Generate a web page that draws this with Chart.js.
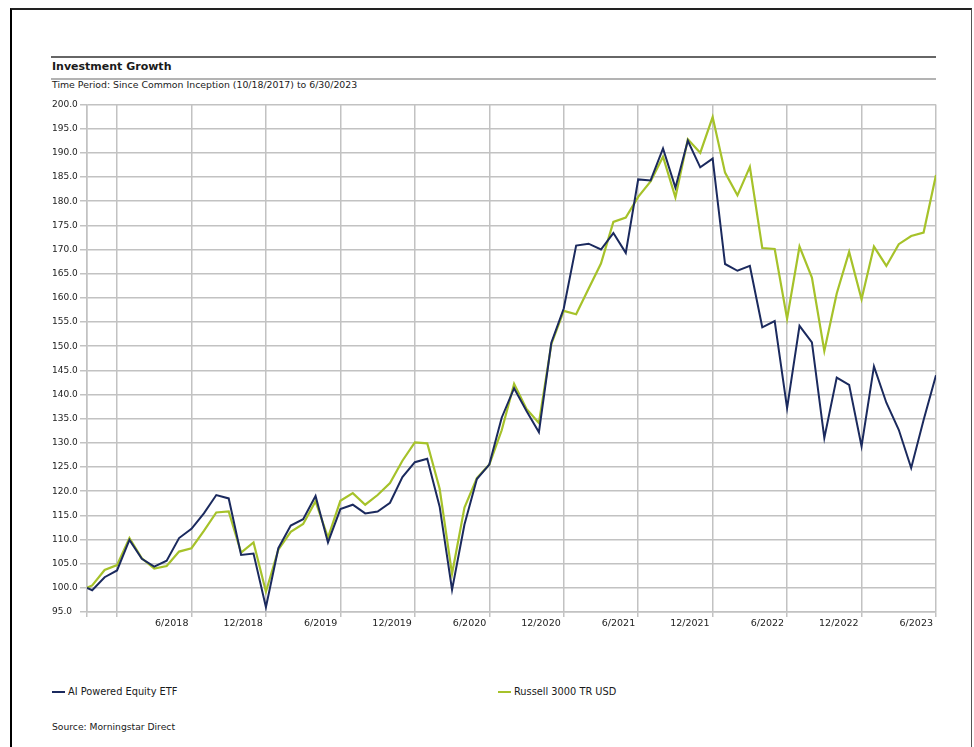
<!DOCTYPE html>
<html>
<head>
<meta charset="utf-8">
<title>Investment Growth</title>
<script src="https://cdn.jsdelivr.net/npm/chart.js@4.4.0/dist/chart.umd.min.js"></script>
<style>
  body { margin: 0; background: #fff; font-family: 'DejaVu Sans', Verdana, sans-serif; color: #1a1a1a; }
  #frame { position: absolute; left: 10px; top: 8px; width: 962px; height: 760px; box-sizing: border-box;
           border-left: 2px solid #000; border-top: 2px solid #222; border-right: 1px solid #555; }
  .rule { position: absolute; left: 51px; width: 885px; height: 0; }
  #rule1 { top: 56px; border-top: 2px solid #666; }
  #rule2 { top: 78px; border-top: 2px solid #b3b3b3; }
  .txt { position: absolute; white-space: nowrap; }
  #title { left: 52px; top: 60px; font-size: 11px; line-height: 13px; font-weight: bold; }
  #period { left: 52px; top: 79px; font-size: 9.35px; line-height: 12px; }
  #chartBox { position: absolute; left: 40px; top: 95px; width: 905px; height: 540px; }
  .swatch { position: absolute; width: 13px; height: 2px; top: 691px; }
  #source { left: 52px; top: 721px; font-size: 9.2px; line-height: 12px; }
</style>
</head>
<body>
<div id="frame"></div>
<div class="rule" id="rule1"></div>
<div class="txt" id="title">Investment Growth</div>
<div class="rule" id="rule2"></div>
<div class="txt" id="period">Time Period: Since Common Inception (10/18/2017) to 6/30/2023</div>
<div id="chartBox"><canvas id="growthChart"></canvas></div>
<div id="legend"></div>
<div class="txt" id="source">Source: Morningstar Direct</div>

<script>
// Periods: inception date, then month ends
const periods = [
  '10/18/2017', '10/2017', '11/2017', '12/2017',
  '1/2018', '2/2018', '3/2018', '4/2018', '5/2018', '6/2018', '7/2018', '8/2018', '9/2018', '10/2018', '11/2018', '12/2018',
  '1/2019', '2/2019', '3/2019', '4/2019', '5/2019', '6/2019', '7/2019', '8/2019', '9/2019', '10/2019', '11/2019', '12/2019',
  '1/2020', '2/2020', '3/2020', '4/2020', '5/2020', '6/2020', '7/2020', '8/2020', '9/2020', '10/2020', '11/2020', '12/2020',
  '1/2021', '2/2021', '3/2021', '4/2021', '5/2021', '6/2021', '7/2021', '8/2021', '9/2021', '10/2021', '11/2021', '12/2021',
  '1/2022', '2/2022', '3/2022', '4/2022', '5/2022', '6/2022', '7/2022', '8/2022', '9/2022', '10/2022', '11/2022', '12/2022',
  '1/2023', '2/2023', '3/2023', '4/2023', '5/2023', '6/2023'
];

const aiEquityEtf = [
  100.0, 99.5, 102.2, 103.6,
  109.9, 106.0, 104.4, 105.6, 110.3, 112.2, 115.4, 119.2, 118.5, 106.8, 107.1, 96.0,
  108.2, 112.9, 114.2, 119.0, 109.4, 116.3, 117.2, 115.4, 115.8, 117.6, 122.9, 126.0,
  126.7, 116.8, 99.6, 113.1, 122.5, 125.5, 135.2, 141.3, 136.6, 132.2, 150.7, 157.8,
  170.8, 171.2, 170.0, 173.4, 169.3, 184.5, 184.3, 190.9, 182.8, 192.5, 187.0, 188.8,
  167.0, 165.6, 166.6, 153.9, 155.2, 137.2, 154.2, 150.8, 131.0, 143.5, 142.0, 129.3,
  145.8, 138.3, 132.7, 124.8, 134.7, 144.0
];

const russell3000 = [
  100.0, 100.5, 103.7, 104.7,
  110.3, 106.1, 104.0, 104.5, 107.5, 108.2, 111.8, 115.6, 115.8, 107.3, 109.4, 99.2,
  107.9, 111.6, 113.2, 117.9, 110.4, 118.0, 119.6, 117.2, 119.2, 121.7, 126.3, 130.1,
  129.9, 120.5, 102.9, 116.6, 122.7, 125.5, 132.6, 142.2, 137.0, 134.1, 150.4, 157.3,
  156.6, 161.9, 167.1, 175.7, 176.6, 180.9, 184.1, 189.2, 180.8, 192.8, 190.0, 197.4,
  185.9, 181.2, 187.1, 170.3, 170.1, 155.7, 170.6, 164.2, 149.0, 160.9, 169.5, 159.7,
  170.6, 166.6, 171.1, 172.8, 173.5, 185.4
];

const seriesNames = ['AI Powered Equity ETF', 'Russell 3000 TR USD'];
const seriesColors = ['#1b2a5e', '#a6c22a'];

// Vertical grid months and their labels (12/2017 has a gridline but no label)
const xGridMonths = ['12/2017', '6/2018', '12/2018', '6/2019', '12/2019', '6/2020', '12/2020', '6/2021', '12/2021', '6/2022', '12/2022', '6/2023'];
const xTickLabels = ['', '6/2018', '12/2018', '6/2019', '12/2019', '6/2020', '12/2020', '6/2021', '12/2021', '6/2022', '12/2022', '6/2023'];

const yMin = 95, yMax = 200, yStep = 5;

// month position relative to 10/2017 month end
function monthPos(str) {
  const p = str.split('/').map(Number);
  const m = p[0], y = p[p.length - 1];
  const dim = new Date(y, m, 0).getDate();
  const day = p.length === 3 ? p[1] : dim;
  return (y - 2017) * 12 + (m - 10) + (day - dim) / dim;
}

function toPoints(values) {
  return values.map((v, i) => ({ x: monthPos(periods[i]), y: v }));
}

// legend (html)
const legendPos = [52, 498];
const legendEl = document.getElementById('legend');
seriesNames.forEach((name, i) => {
  const sw = document.createElement('div');
  sw.className = 'swatch';
  sw.style.left = legendPos[i] + 'px';
  sw.style.background = seriesColors[i];
  legendEl.appendChild(sw);
  const t = document.createElement('div');
  t.className = 'txt';
  t.style.left = (legendPos[i] + 16) + 'px';
  t.style.top = '686px';
  t.style.fontSize = '9.8px';
  t.style.lineHeight = '12px';
  t.textContent = name;
  legendEl.appendChild(t);
});

const gridColor = '#c2c2c2';
const xMin = monthPos(periods[0]);
const xMax = monthPos(periods[periods.length - 1]);

Chart.defaults.font.family = "'DejaVu Sans', Verdana, sans-serif";
Chart.defaults.color = '#222';

new Chart(document.getElementById('growthChart').getContext('2d'), {
  type: 'line',
  data: {
    datasets: [
      {
        label: seriesNames[0],
        data: toPoints(aiEquityEtf),
        borderColor: seriesColors[0],
        borderWidth: 2,
        pointRadius: 0,
        tension: 0
      },
      {
        label: seriesNames[1],
        data: toPoints(russell3000),
        borderColor: seriesColors[1],
        borderWidth: 2.2,
        pointRadius: 0,
        tension: 0
      }
    ]
  },
  options: {
    responsive: true,
    maintainAspectRatio: false,
    animation: false,
    layout: { padding: { left: 12, right: 9, top: 9.5, bottom: 0 } },
    plugins: {
      legend: { display: false },
      tooltip: { enabled: false }
    },
    scales: {
      x: {
        type: 'linear',
        min: xMin,
        max: xMax,
        afterBuildTicks: function(scale) {
          scale.ticks = [{ value: xMin }].concat(xGridMonths.map(m => ({ value: monthPos(m) })));
        },
        afterFit: function(scale) { scale.height = 23; },
        ticks: {
          autoSkip: false,
          maxRotation: 0,
          align: 'end',
          padding: 1,
          font: { size: 9.5 },
          callback: function(value, index) {
            if (index === 0) return '';
            const label = xTickLabels[index - 1];
            return label ? label + ' ' : '';
          }
        },
        grid: { color: gridColor, lineWidth: 1.5, tickLength: 5 },
        border: { display: true, color: gridColor, width: 1.5 }
      },
      y: {
        min: yMin,
        max: yMax,
        afterFit: function(scale) { scale.width = 35; },
        ticks: {
          stepSize: yStep,
          crossAlign: 'far',
          padding: 2,
          font: { size: 9 },
          callback: function(value) { return Number(value).toFixed(1); }
        },
        grid: { color: gridColor, lineWidth: 1.5, tickLength: 7 },
        border: { display: true, color: gridColor, width: 1.5 }
      }
    }
  }
});
</script>
</body>
</html>
